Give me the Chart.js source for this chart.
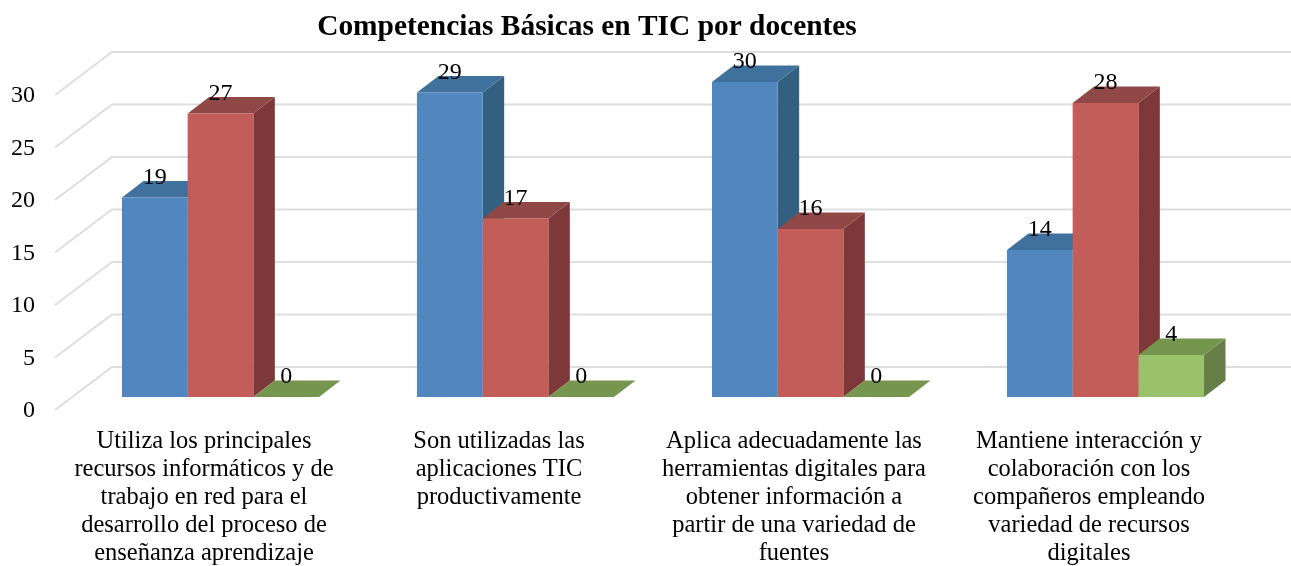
<!DOCTYPE html>
<html lang="es"><head><meta charset="utf-8">
<style>html,body{margin:0;padding:0;background:#fff}#w{width:1291px;height:566px;position:relative}</style>
<script src="https://cdn.jsdelivr.net/npm/chart.js@4"></script>
</head><body><div id="w"><canvas id="c"></canvas></div>
<script>
const titleText = 'Competencias Básicas en TIC por docentes';
const categories = [
  ['Utiliza los principales','recursos informáticos y de','trabajo en red para el','desarrollo del proceso de','enseñanza aprendizaje'],
  ['Son utilizadas las','aplicaciones TIC','productivamente'],
  ['Aplica adecuadamente las','herramientas digitales para','obtener información a','partir de una variedad de','fuentes'],
  ['Mantiene interacción y','colaboración con los','compañeros empleando','variedad de recursos','digitales']
];
const serie1 = [19, 29, 30, 14];
const serie2 = [27, 17, 16, 28];
const serie3 = [0, 0, 0, 4];
const yTicks = [0, 5, 10, 15, 20, 25, 30];

const FRONT = ['#5286BF', '#C25D5A', '#9BC16D'];
const TOP   = ['#40709C', '#904847', '#76964F'];
const SIDE  = ['#34607F', '#7E3839', '#677F47'];
const DX = 21.5, DY = 16.5;
const FONT = '"Liberation Serif","Times New Roman",serif';

function poly(ctx, pts, fill) {
  ctx.fillStyle = fill;
  ctx.beginPath();
  pts.forEach((p, i) => i ? ctx.lineTo(p[0], p[1]) : ctx.moveTo(p[0], p[1]));
  ctx.closePath();
  ctx.fill();
}

const scene3d = {
  id: 'scene3d',
  afterLayout(chart) {
    const t = chart.titleBlock;
    t.left -= 39.5; t.right -= 39.5;
  },
  beforeDatasetsDraw(chart) {
    const ctx = chart.ctx, a = chart.chartArea, y = chart.scales.y;
    ctx.save();
    ctx.strokeStyle = '#DEDEDE';
    ctx.lineWidth = 2;
    y.ticks.forEach(t => {
      const p = y.getPixelForValue(t.value);
      ctx.beginPath();
      ctx.moveTo(a.left - 18, p + 13);
      ctx.lineTo(a.left + 39, p - 30);
      ctx.lineTo(chart.width, p - 30);
      ctx.stroke();
    });
    const n = categories.length;
    for (let i = 0; i < n; i++) {
      chart.data.datasets.forEach((ds, d) => {
        const b = chart.getDatasetMeta(d).data[i];
        const l = b.x - b.width / 2, r = b.x + b.width / 2;
        const tp = b.y, bt = b.base;
        if (tp < bt) poly(ctx, [[r, tp], [r + DX, tp - DY], [r + DX, bt - DY], [r, bt]], SIDE[d]);
        poly(ctx, [[l, tp], [l + DX, tp - DY], [r + DX, tp - DY], [r, tp]], TOP[d]);
      });
    }
    ctx.restore();
  },
  afterDatasetsDraw(chart) {
    const ctx = chart.ctx;
    ctx.save();
    ctx.fillStyle = '#000';
    ctx.font = '24px ' + FONT;
    ctx.textAlign = 'center';
    ctx.textBaseline = 'middle';
    chart.data.datasets.forEach((ds, d) => {
      chart.getDatasetMeta(d).data.forEach((b, i) => {
        ctx.fillText(String(ds.data[i]), b.x, b.y - 20);
      });
    });
    ctx.restore();
  }
};

new Chart(document.getElementById('c'), {
  type: 'bar',
  data: {
    labels: categories,
    datasets: [serie1, serie2, serie3].map((data, i) => ({
      label: 'Serie ' + (i + 1), data,
      backgroundColor: FRONT[i], borderWidth: 0,
      barPercentage: 1, categoryPercentage: 0.668
    }))
  },
  options: {
    responsive: true, maintainAspectRatio: false, animation: false,
    layout: { padding: { left: 0, right: 38, top: 0, bottom: 0 } },
    plugins: {
      legend: { display: false }, tooltip: { enabled: false },
      title: {
        display: true, text: titleText, color: '#000',
        font: { family: FONT, size: 29.4, weight: 'bold', lineHeight: 1.2 },
        padding: { top: 9.4, bottom: 37.3 }
      }
    },
    scales: {
      x: {
        grid: { display: false, drawTicks: false }, border: { display: false },
        afterFit(s) { s.height = 169; },
        ticks: {
          color: '#000', font: { family: FONT, size: 24.5, lineHeight: 1.143 },
          maxRotation: 0, minRotation: 0, autoSkip: false, padding: 31, labelOffset: -16.5
        }
      },
      y: {
        min: 0, max: 30,
        grid: { display: false, drawTicks: false }, border: { display: false },
        afterFit(s) { s.width = 73; },
        afterBuildTicks(s) { s.ticks = yTicks.map(v => ({ value: v })); },
        ticks: {
          color: '#000', font: { family: FONT, size: 24 },
          padding: 38, labelOffset: 14, autoSkip: false
        }
      }
    }
  },
  plugins: [scene3d]
});
</script></body></html>
